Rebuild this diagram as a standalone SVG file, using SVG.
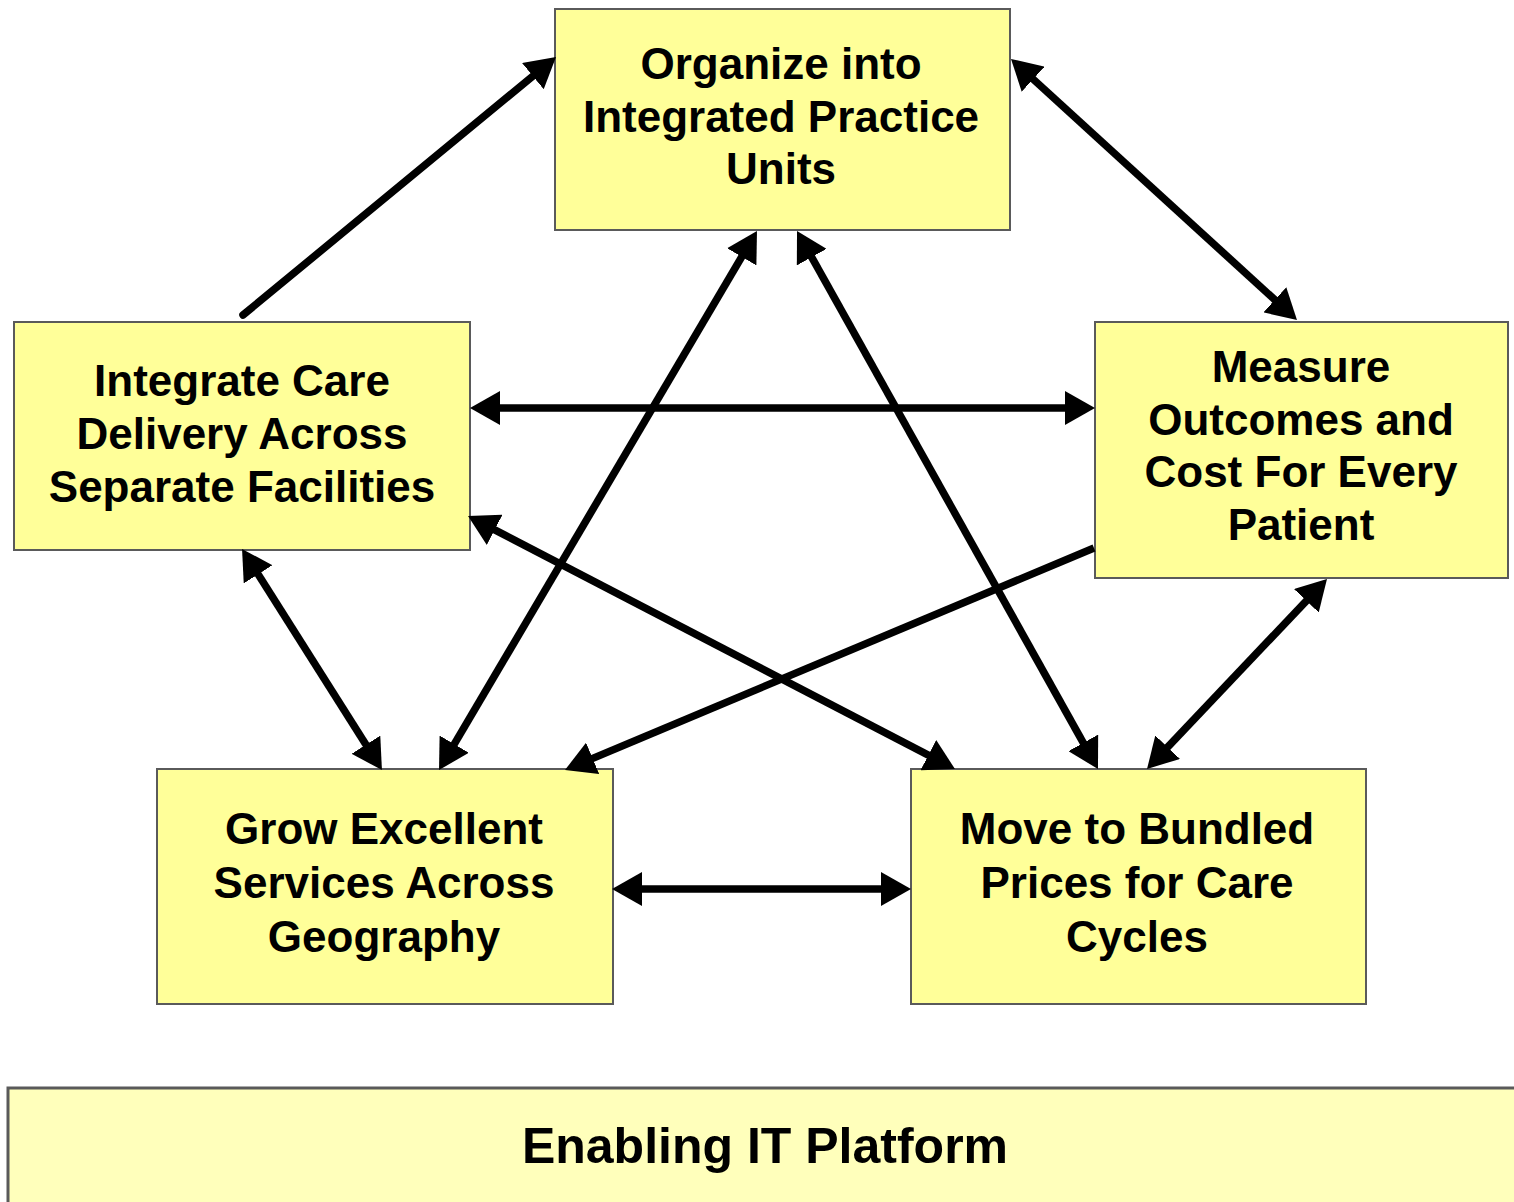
<svg xmlns="http://www.w3.org/2000/svg" width="1514" height="1202" viewBox="0 0 1514 1202">
<style>
.box{fill:#FFFF99;stroke:#5a5a5a;stroke-width:2}
.plat{fill:#FFFFBB;stroke:#5a5a5a;stroke-width:3}
.lbl{font-family:"Liberation Sans",Arial,sans-serif;font-weight:bold;font-size:44px;fill:#000;text-anchor:middle}
.plbl{font-family:"Liberation Sans",Arial,sans-serif;font-weight:bold;font-size:50px;fill:#000;text-anchor:middle}
.conn{stroke:#000;stroke-width:7.5;fill:none;stroke-linecap:butt}
.open{stroke-linecap:round}
</style>
<defs>
<marker id="ah" viewBox="0 0 30 34" refX="20" refY="17" markerWidth="30" markerHeight="34" markerUnits="userSpaceOnUse" orient="auto-start-reverse">
<path d="M0,0 L30,17 L0,34 Z" fill="#000"/>
</marker>
</defs>
<rect width="1514" height="1202" fill="#fff"/>
<g id="node-organize">
<rect class="box" x="555" y="9" width="455" height="221"/>
<text class="lbl" x="781" y="79">Organize into</text>
<text class="lbl" x="781" y="131.5">Integrated Practice</text>
<text class="lbl" x="781" y="184">Units</text>
</g>
<g id="node-integrate">
<rect class="box" x="14" y="322" width="456" height="228"/>
<text class="lbl" x="242" y="396">Integrate Care</text>
<text class="lbl" x="242" y="449">Delivery Across</text>
<text class="lbl" x="242" y="502">Separate Facilities</text>
</g>
<g id="node-measure">
<rect class="box" x="1095" y="322" width="413" height="256"/>
<text class="lbl" x="1301" y="382">Measure</text>
<text class="lbl" x="1301" y="434.5">Outcomes and</text>
<text class="lbl" x="1301" y="487">Cost For Every</text>
<text class="lbl" x="1301" y="540">Patient</text>
</g>
<g id="node-grow">
<rect class="box" x="157" y="769" width="456" height="235"/>
<text class="lbl" x="384" y="844">Grow Excellent</text>
<text class="lbl" x="384" y="898">Services Across</text>
<text class="lbl" x="384" y="952">Geography</text>
</g>
<g id="node-move">
<rect class="box" x="911" y="769" width="455" height="235"/>
<text class="lbl" x="1137" y="844">Move to Bundled</text>
<text class="lbl" x="1137" y="898">Prices for Care</text>
<text class="lbl" x="1137" y="952">Cycles</text>
</g>
<g id="node-platform">
<rect class="plat" x="8" y="1088" width="1520" height="130"/>
<text class="plbl" x="765" y="1163">Enabling IT Platform</text>
</g>
<g id="connectors">
<path class="conn open" d="M243,315 L548.3,63.4" marker-end="url(#ah)"/>
<path class="conn" d="M1018.4,65.7 L1289.6,313.3" marker-start="url(#ah)" marker-end="url(#ah)"/>
<path class="conn" d="M480,408 L1085,408" marker-start="url(#ah)" marker-end="url(#ah)"/>
<path class="conn" d="M751.9,239.6 L444.1,761.4" marker-start="url(#ah)" marker-end="url(#ah)"/>
<path class="conn" d="M801.9,239.7 L1093.1,760.3" marker-start="url(#ah)" marker-end="url(#ah)"/>
<path class="conn" d="M476.9,520.6 L946.1,764.4" marker-start="url(#ah)" marker-end="url(#ah)"/>
<path class="conn" d="M1094,548 L574.2,766.1" marker-end="url(#ah)"/>
<path class="conn" d="M247.4,557.4 L376.6,761.6" marker-start="url(#ah)" marker-end="url(#ah)"/>
<path class="conn" d="M1320.1,586.3 L1153.9,761.7" marker-start="url(#ah)" marker-end="url(#ah)"/>
<path class="conn" d="M622,889 L901,889" marker-start="url(#ah)" marker-end="url(#ah)"/>
</g>
</svg>
